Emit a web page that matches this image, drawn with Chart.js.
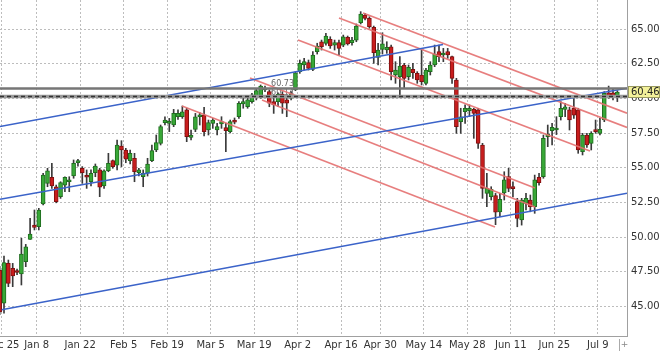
<!DOCTYPE html>
<html><head><meta charset="utf-8">
<script src="https://cdn.jsdelivr.net/npm/chart.js@4/dist/chart.umd.min.js"></script>
<style>html,body{margin:0;padding:0;background:#fff}#wrap{width:660px;height:353px}</style>
</head><body><div id="wrap"><canvas id="c" width="660" height="353"></canvas></div>
<script>
// ---- data (trading-day index is the array position) ----
const openP = [47.6,45.23,48.11,47.75,47.55,47.34,48.23,49.84,50.87,50.75,52.39,53.88,54.32,53.64,52.92,53.76,54.0,54.41,55.38,54.97,54.41,54.0,54.65,54.85,53.69,54.79,55.52,55.2,56.58,56.29,55.52,55.69,54.65,54.36,54.61,55.52,56.29,56.77,58.26,58.21,58.09,58.69,58.69,59.18,57.2,57.78,58.69,58.81,57.73,58.21,57.73,58.17,57.9,57.61,58.4,58.69,59.61,59.41,59.78,60.09,60.13,60.62,60.5,59.78,59.78,60.3,59.9,60.02,60.62,61.94,62.42,62.59,62.11,63.38,64.1,63.98,64.27,63.86,64.03,63.86,64.42,64.03,64.22,65.47,66.03,65.79,65.14,62.97,63.55,63.5,63.74,61.7,61.58,62.42,61.58,62.11,61.82,61.7,61.1,61.94,62.42,63.38,63.14,63.38,63.02,61.34,58.33,59.06,59.13,59.22,59.18,56.65,53.16,52.92,53.0,51.83,53.2,54.37,53.6,52.56,51.24,52.44,52.68,52.2,54.32,54.36,57.25,57.68,57.73,58.69,59.22,59.18,59.3,59.18,56.17,57.37,56.77,57.73,57.49,58.45,60.42,60.42,60.18];
const highP = [47.9,48.64,48.35,48.11,47.7,49.92,49.48,51.36,51.96,52.08,54.61,54.97,55.33,53.76,54.0,54.36,54.36,55.57,55.62,55.09,54.85,54.85,55.28,54.97,54.85,56.05,55.57,57.01,56.96,56.41,56.29,56.05,54.97,54.85,55.69,56.65,57.37,58.09,58.69,58.57,59.22,59.18,59.46,59.3,57.73,58.93,58.98,59.37,58.45,58.57,58.21,58.69,58.21,58.45,58.6,59.78,60.02,60.13,60.38,60.67,60.98,60.9,60.62,60.13,60.42,60.5,60.02,60.5,61.94,62.78,62.9,62.78,63.38,63.99,64.22,64.71,64.46,64.22,64.22,64.58,64.51,64.42,65.38,66.27,66.15,65.9,65.23,63.99,64.75,64.1,63.86,62.66,63.02,62.54,62.42,62.54,61.94,63.5,62.18,62.66,63.86,63.86,63.62,63.62,63.07,61.46,59.3,59.54,59.54,59.3,59.3,56.77,54.61,53.64,53.16,53.16,54.72,54.97,54.0,52.8,52.8,53.16,53.04,54.48,54.61,57.37,58.09,58.21,58.69,59.78,59.66,59.37,60.02,59.3,57.49,57.49,57.61,58.45,58.57,60.5,60.9,60.74,60.57];
const lowP = [44.4,44.51,46.43,46.43,47.3,46.55,47.87,49.84,50.52,50.52,52.32,53.64,53.52,52.48,52.8,53.28,53.28,54.25,55.13,53.88,53.52,53.69,54.36,52.92,53.52,54.72,54.97,54.85,55.09,55.37,55.28,54.0,54.41,53.64,54.41,55.45,56.17,56.65,58.09,57.61,57.97,58.5,58.57,56.89,57.01,57.61,58.09,57.3,57.37,57.85,57.37,57.85,56.17,57.52,58.17,58.57,59.3,59.3,59.66,59.9,60.02,60.5,59.41,58.93,59.41,58.93,58.69,59.9,60.57,61.82,62.06,62.06,62.01,63.21,63.5,63.86,63.62,63.5,63.14,63.74,63.86,63.86,64.1,65.38,65.67,65.07,62.54,62.42,63.21,63.26,61.34,61.1,60.13,60.74,61.34,61.46,61.1,60.98,60.98,61.7,62.3,62.66,62.66,62.9,61.1,57.49,57.49,58.21,58.7,57.13,56.41,52.8,52.2,52.68,50.9,51.48,52.68,53.28,52.9,50.75,50.87,51.96,51.83,51.72,53.76,54.25,56.53,56.65,57.4,58.45,58.69,57.73,58.57,56.05,55.93,56.48,56.29,57.49,57.37,58.33,60.02,59.9,59.78];
const closeP = [44.6,48.16,46.67,47.2,47.45,48.78,49.31,50.23,50.71,51.96,54.48,54.79,53.69,52.56,53.93,54.32,54.13,55.33,55.45,54.65,54.32,54.61,55.13,53.6,54.79,55.33,55.09,56.65,56.29,55.62,56.05,54.72,54.85,54.61,55.28,56.24,56.82,57.97,58.45,58.33,58.93,58.93,59.05,57.25,57.37,58.69,58.81,57.61,58.26,58.45,57.97,58.33,57.68,58.33,58.3,59.66,59.78,59.9,60.26,60.57,60.9,60.74,59.66,59.54,60.3,59.66,59.66,60.3,61.86,62.54,62.66,62.18,63.14,63.79,63.74,64.51,63.79,64.03,63.62,64.46,63.94,64.22,65.23,66.1,65.79,65.18,63.31,63.5,63.94,63.7,61.94,62.06,62.35,61.46,62.25,61.86,61.34,61.22,62.06,62.42,63.21,63.02,63.26,63.14,61.46,57.97,58.69,59.3,59.3,58.93,56.77,53.52,53.52,53.45,51.8,52.73,54.13,53.52,53.5,51.36,52.68,52.8,52.2,54.13,53.93,57.13,57.44,57.92,57.83,59.3,59.41,58.45,58.81,56.29,57.37,56.65,57.49,57.61,57.78,60.38,60.13,60.13,60.46];

const tickDays   = [1, 9, 19, 29, 39, 49, 59, 69, 79, 88, 98, 108, 118, 128, 138];
const tickLabels = ['Dec 25','Jan 8','Jan 22','Feb 5','Feb 19','Mar 5','Mar 19','Apr 2','Apr 16','Apr 30','May 14','May 28','Jun 11','Jun 25','Jul 9'];
const priceTicks = [45, 47.5, 50, 52.5, 55, 57.5, 60, 62.5, 65];

const levelSolid  = 60.73;
const levelDashed = 60.14;
const lastPrice   = 60.46;

// trend lines: [startDay, startPrice, endDay, endPrice]
const blueLines = [
  [0.08, 57.98, 101.92, 63.90],
  [0.08, 52.73, 144.22, 60.74],
  [0.47, 44.76, 144.22, 53.17]
];
const redLines = [
  [83.53, 66.17, 144.22, 58.94],
  [78.01, 65.81, 144.22, 57.91],
  [68.59, 64.22, 135.71, 56.22],
  [57.55, 61.48, 123.07, 53.55],
  [60.31, 59.90, 123.07, 52.18],
  [41.92, 59.46, 113.87, 50.73]
];

// ---- view window ----
const dayMin = 0.08, dayMax = 144.22;
const priceMin = 42.87, priceMax = 67.11;
const levelLabelDay = 62.4;

Chart.defaults.font.family = '"DejaVu Sans", Verdana, sans-serif';
Chart.defaults.font.size = 10;
Chart.defaults.color = '#333';

const idx = openP.map((_, i) => i);
const isUp = i => closeP[i] >= openP[i];

const seg = (a, color, width, dash) => ({
  type: 'line',
  data: [{x: a[0], y: a[1]}, {x: a[2], y: a[3]}],
  borderColor: color, borderWidth: width, borderDash: dash || [],
  pointRadius: 0, fill: false, tension: 0, order: 0
});

const datasets = [
  seg([dayMin, levelSolid, dayMax, levelSolid], '#767676', 2.5),
  seg([dayMin, levelDashed, dayMax, levelDashed], '#333', 1.5, [4, 3]),
  seg([dayMin, levelDashed, dayMax, levelDashed], '#9a9a9a', 3.5),
  ...blueLines.map(l => seg(l, '#3b63c9', 1.6)),
  ...redLines.map(l => seg(l, 'rgba(228,112,112,0.9)', 1.7)),
  {
    type: 'bar', order: 1, grouped: false,
    data: idx.map(i => ({x: i, y: [openP[i], closeP[i]]})),
    backgroundColor: idx.map(i => isUp(i) ? '#38a837' : '#c81d1d'),
    borderColor: idx.map(i => isUp(i) ? '#1f6d1f' : '#801010'),
    borderWidth: 1, borderSkipped: false, barThickness: 4, minBarLength: 2
  },
  {
    type: 'bar', order: 2, grouped: false,
    data: idx.map(i => ({x: i, y: [lowP[i], highP[i]]})),
    backgroundColor: '#3a3a3a', borderWidth: 0, barThickness: 1
  }
];

const overlay = {
  id: 'overlay',
  beforeDatasetsDraw(chart) {
    const {ctx, scales: {x, y}} = chart;
    ctx.save();
    ctx.font = '8px "DejaVu Sans", Verdana, sans-serif';
    ctx.fillStyle = '#666';
    ctx.textBaseline = 'alphabetic';
    const lx = x.getPixelForValue(levelLabelDay);
    ctx.fillText(levelSolid.toFixed(2), lx, y.getPixelForValue(levelSolid) - 2);
    ctx.fillText(levelDashed.toFixed(2), lx, y.getPixelForValue(levelDashed) - 2);
    ctx.restore();
  },
  afterDraw(chart) {
    const {ctx, chartArea, scales: {y}} = chart;
    ctx.save();
    const yy = Math.round(y.getPixelForValue(lastPrice));
    const left = chartArea.right + 1;
    ctx.fillStyle = '#f3f19a';
    ctx.fillRect(left, yy - 6, 32, 12);
    ctx.strokeStyle = '#9a9a60';
    ctx.lineWidth = 1;
    ctx.strokeRect(left + 0.5, yy - 5.5, 31, 11);
    ctx.fillStyle = '#222';
    ctx.font = '10px "DejaVu Sans", Verdana, sans-serif';
    ctx.textBaseline = 'middle';
    ctx.textAlign = 'left';
    ctx.fillText(lastPrice.toFixed(2), chartArea.right + 4, yy + 0.5);
    // small scroll marker at the end of the date axis
    ctx.strokeStyle = '#aaa';
    ctx.beginPath(); ctx.moveTo(619.5, 339); ctx.lineTo(619.5, 351); ctx.stroke();
    ctx.fillStyle = '#888';
    ctx.font = '9px "DejaVu Sans", sans-serif';
    ctx.textAlign = 'center';
    ctx.fillText('+', 624.5, 345);
    ctx.restore();
  }
};

new Chart(document.getElementById('c'), {
  type: 'bar',
  data: {datasets},
  plugins: [overlay],
  options: {
    responsive: false, animation: false, devicePixelRatio: 1,
    layout: {padding: 0},
    plugins: {legend: {display: false}, tooltip: {enabled: false}},
    scales: {
      x: {
        type: 'linear', position: 'bottom', min: dayMin, max: dayMax,
        offset: false,
        afterBuildTicks: s => { s.ticks = tickDays.map(d => ({value: d - 0.5})); },
        afterFit: s => { s.height = 17; s.paddingLeft = 0; s.paddingRight = 0; },
        ticks: {autoSkip: false, maxRotation: 0, padding: 3, color: '#333',
                callback: (v, i) => tickLabels[i]},
        grid: {offset: false, color: '#bdbdbd', drawTicks: false},
        border: {display: true, color: '#a0a0a0', dash: [2, 2]}
      },
      y: {
        type: 'linear', position: 'right', min: priceMin, max: priceMax,
        afterBuildTicks: s => { s.ticks = priceTicks.map(v => ({value: v})); },
        afterFit: s => { s.width = 33; s.paddingTop = 0; s.paddingBottom = 0; },
        ticks: {padding: 4, color: '#333', callback: v => v.toFixed(2)},
        grid: {color: '#bdbdbd', drawTicks: false},
        border: {display: true, color: '#a0a0a0', dash: [2, 2]}
      }
    }
  }
});
</script>
</body></html>
